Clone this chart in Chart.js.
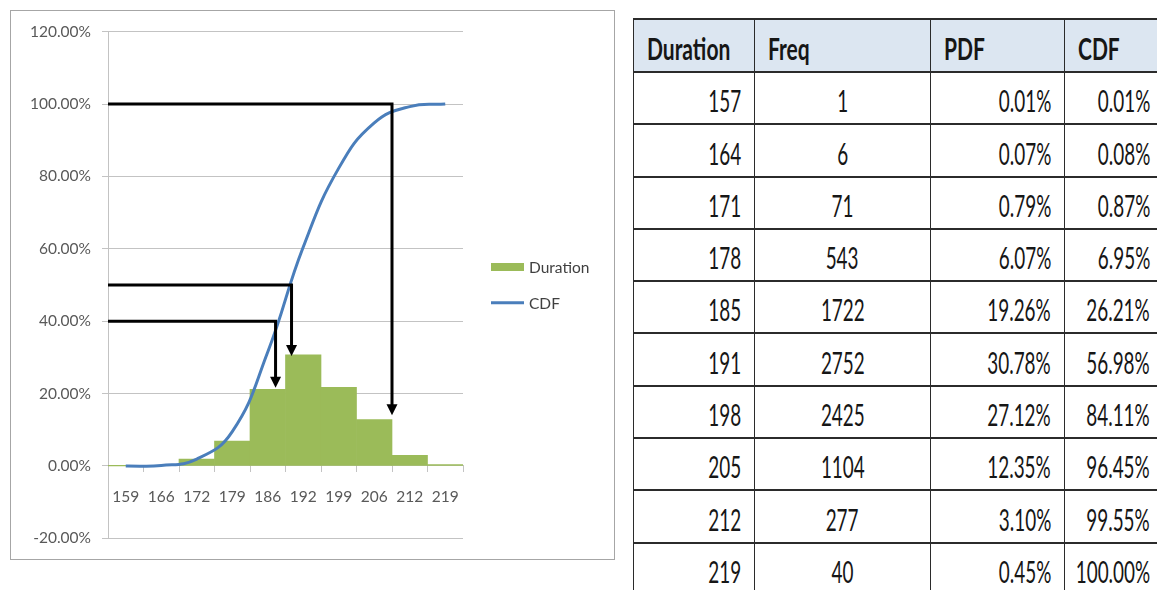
<!DOCTYPE html>
<html>
<head>
<meta charset="utf-8">
<script src="https://cdn.jsdelivr.net/npm/chart.js@4.4.1/dist/chart.umd.min.js"></script>
<style>
  html, body { margin: 0; padding: 0; background: #fff; width: 1157px; height: 590px; overflow: hidden; }
  #chartBox { position: absolute; left: 10px; top: 10px; width: 605px; height: 550px; box-sizing: border-box;
              border: 1px solid #a6a6a6; background: #fff; }
  #chart { position: absolute; left: 0; top: 0; }
  #freqTable { position: absolute; left: 633px; top: 18px; width: 530px; border-collapse: collapse; table-layout: fixed;
               font-family: Lato, "Open Sans", sans-serif; font-size: 30px; color: #161616; }
  #freqTable th, #freqTable td { border-top: 2px solid #2b2b2b; border-bottom: 2px solid #2b2b2b;
               border-left: 1.5px solid #2b2b2b; border-right: 1.5px solid #2b2b2b;
               padding: 0 13px 5px 13px; vertical-align: bottom; line-height: 36px; white-space: nowrap; overflow: visible; }
  #freqTable tr { height: 52.3px; }
  #freqTable thead tr { height: 53px; }
  #freqTable th { background: #dce6f1; text-align: left; font-weight: bold; }
  .cell { display: flex; }
  .num { display: inline-block; flex: none; transform: scaleX(0.63); }
  .r .cell { justify-content: flex-end; } .r .num { transform-origin: right center; }
  .c .cell { justify-content: center; } .c .num { transform-origin: center center; }
  .hd { display: inline-block; transform: scaleX(0.7); transform-origin: left center; }
</style>
</head>
<body>
<div id="chartBox"><canvas id="chart" width="603" height="548"></canvas></div>
<table id="freqTable">
  <colgroup><col style="width:121px"><col style="width:176px"><col style="width:134px"><col style="width:99px"></colgroup>
  <thead><tr id="headRow"></tr></thead>
  <tbody id="tableBody"></tbody>
</table>
<script>
// ---- chart data (percent units) ----
const binLabels   = ['159', '166', '172', '179', '186', '192', '199', '206', '212', '219'];
const durationPct = [0.01, 0.08, 1.9, 6.9, 21.2, 30.7, 21.7, 12.8, 2.9, 0.35];
const cdfPct      = [0, 0.1, 1.9, 9.5, 31.5, 60.5, 82.3, 94.8, 99.3, 100];

const guideLevel = [100, 50, 40];
const guideX     = [7.5, 4.67, 4.22];
const guideTip   = [14.0, 30.4, 21.6];

// ---- table data ----
const tableHeaders  = ['Duration', 'Freq', 'PDF', 'CDF'];
const tableDuration = [157, 164, 171, 178, 185, 191, 198, 205, 212, 219];
const tableFreq     = [1, 6, 71, 543, 1722, 2752, 2425, 1104, 277, 40];
const tablePdf      = [0.01, 0.07, 0.79, 6.07, 19.26, 30.78, 27.12, 12.35, 3.10, 0.45];
const tableCdf      = [0.01, 0.08, 0.87, 6.95, 26.21, 56.98, 84.11, 96.45, 99.55, 100.00];

// build the table
const headRow = document.getElementById('headRow');
tableHeaders.forEach(h => {
  const th = document.createElement('th');
  th.innerHTML = '<span class="hd">' + h + '</span>';
  headRow.appendChild(th);
});
const body = document.getElementById('tableBody');
tableDuration.forEach((d, i) => {
  const tr = document.createElement('tr');
  const cells = [
    [String(d), 'r'],
    [String(tableFreq[i]), 'c'],
    [tablePdf[i].toFixed(2) + '%', 'r'],
    [tableCdf[i].toFixed(2) + '%', 'r']
  ];
  cells.forEach(([txt, cls]) => {
    const td = document.createElement('td');
    td.className = cls;
    td.innerHTML = '<div class="cell"><span class="num">' + txt + '</span></div>';
    tr.appendChild(td);
  });
  body.appendChild(tr);
});

// ---- chart ----
const FONT = 'Lato';
const TICK_COLOR = '#595959';
const GRID_COLOR = '#c3c3c3';
const GREEN = '#9bbb59';
const BLUE = '#4a7ebb';

const guideArrows = {
  id: 'guideArrows',
  afterDatasetsDraw(chart) {
    const {ctx, chartArea, scales: {x, y}} = chart;
    ctx.save();
    ctx.strokeStyle = '#000';
    ctx.fillStyle = '#000';
    ctx.lineWidth = 3;
    ctx.lineJoin = 'miter';
    guideLevel.forEach((lvl, i) => {
      const py = y.getPixelForValue(lvl);
      const px = x.getPixelForValue(guideX[i]);
      const tip = y.getPixelForValue(guideTip[i]);
      const head = 11;
      ctx.beginPath();
      ctx.moveTo(chartArea.left, py);
      ctx.lineTo(px, py);
      ctx.lineTo(px, tip - head + 1);
      ctx.stroke();
      ctx.beginPath();
      ctx.moveTo(px - 5.5, tip - head);
      ctx.lineTo(px + 5.5, tip - head);
      ctx.lineTo(px, tip);
      ctx.closePath();
      ctx.fill();
    });
    ctx.restore();
  }
};

const sideLegend = {
  id: 'sideLegend',
  afterDraw(chart) {
    const {ctx, chartArea} = chart;
    const x0 = chartArea.right + 28;
    const rows = [256, 291.7];
    ctx.save();
    ctx.font = '15.5px ' + FONT;
    ctx.textBaseline = 'middle';
    chart.data.datasets.forEach((ds, i) => {
      const yy = rows[i];
      if (ds.type === 'bar') {
        ctx.fillStyle = ds.backgroundColor;
        ctx.fillRect(x0, yy - 4, 33, 8);
      } else {
        ctx.strokeStyle = ds.borderColor;
        ctx.lineWidth = 3;
        ctx.beginPath();
        ctx.moveTo(x0, yy);
        ctx.lineTo(x0 + 33, yy);
        ctx.stroke();
      }
      ctx.fillStyle = '#404040';
      ctx.fillText(ds.label, x0 + 38, yy + 1);
    });
    ctx.restore();
  }
};

new Chart(document.getElementById('chart'), {
  data: {
    labels: binLabels,
    datasets: [
      { type: 'bar', label: 'Duration', data: durationPct, backgroundColor: GREEN,
        categoryPercentage: 1.0, barPercentage: 1.0, order: 2 },
      { type: 'line', label: 'CDF', data: cdfPct, borderColor: BLUE, borderWidth: 3,
        pointRadius: 0, tension: 0.45, fill: false, order: 1 }
    ]
  },
  options: {
    responsive: false,
    animation: false,
    devicePixelRatio: 1,
    layout: { padding: { left: 0, right: 151, top: 20.7, bottom: 20.7 } },
    plugins: { legend: { display: false }, tooltip: { enabled: false } },
    scales: {
      x: {
        type: 'category',
        position: { y: 0 },
        offset: true,
        grid: { offset: true, drawOnChartArea: false, drawTicks: true, tickLength: 6, color: GRID_COLOR },
        border: { display: true, color: GRID_COLOR, width: 1 },
        ticks: { padding: 16, color: TICK_COLOR, font: { family: FONT, size: 15.5 }, maxRotation: 0, autoSkip: false }
      },
      y: {
        min: -20, max: 120,
        grid: { color: GRID_COLOR, drawTicks: true, tickLength: 6 },
        border: { display: true, color: GRID_COLOR },
        ticks: { stepSize: 20, padding: 11, color: TICK_COLOR, font: { family: FONT, size: 15.5 },
                 callback: v => v.toFixed(2) + '%' },
        afterFit(scale) { scale.width = 97; }
      }
    }
  },
  plugins: [guideArrows, sideLegend]
});
</script>
</body>
</html>
